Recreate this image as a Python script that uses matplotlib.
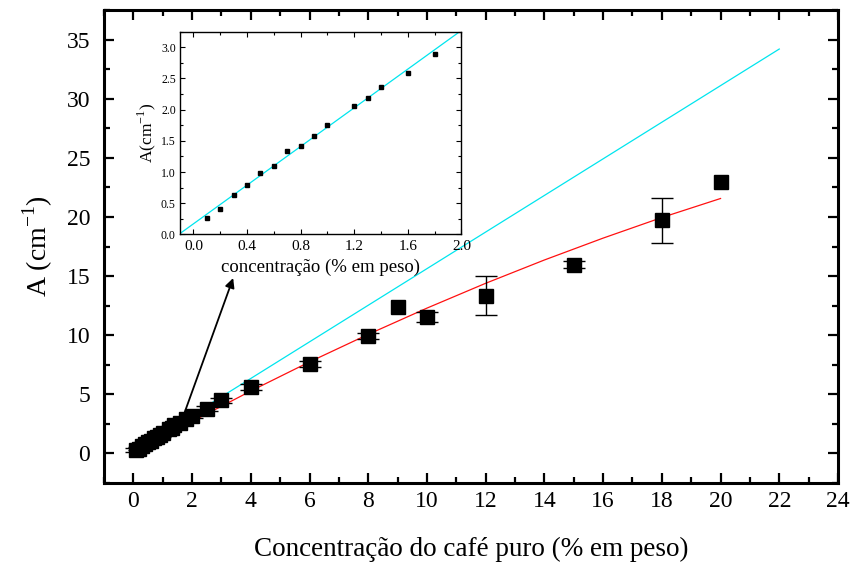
import matplotlib
matplotlib.use("Agg")
import matplotlib.pyplot as plt
from matplotlib.ticker import MultipleLocator

plt.rcParams['font.family'] = ['Liberation Serif', 'DejaVu Serif']
plt.rcParams['mathtext.fontset'] = 'custom'
plt.rcParams['mathtext.rm'] = 'Liberation Serif'

# ---- data (main plot) ----
conc = [0.1, 0.2, 0.3, 0.4, 0.5, 0.6, 0.7, 0.8, 0.9, 1.0, 1.2, 1.3, 1.4, 1.6, 1.8,
        2.0, 2.5, 3.0, 4, 6, 8, 9, 10, 12, 15, 18, 20]
absorb = [0.27, 0.41, 0.63, 0.80, 0.98, 1.09, 1.34, 1.42, 1.58, 1.76, 2.06, 2.19, 2.37, 2.59, 2.89,
          3.15, 3.80, 4.50, 5.60, 7.55, 9.93, 12.37, 11.52, 13.35, 15.96, 19.72, 22.98]
err = [0.15, 0.15, 0.15, 0.15, 0.15, 0.15, 0.15, 0.15, 0.15, 0.15, 0.15, 0.15, 0.15, 0.15, 0.15,
       0.15, 0.2, 0.2, 0.25, 0.25, 0.25, 0.0, 0.4, 1.65, 0.28, 1.9, 0.0]

# red fit curve
red_x = [0.1, 1, 2, 4, 6, 8, 10, 12, 14, 16, 18, 20]
red_y = [0.14, 1.36, 2.70, 5.28, 7.74, 10.07, 12.29, 14.39, 16.36, 18.21, 19.95, 21.56]

# cyan linear fit
cyan_x = [0.0, 22.0]
cyan_y = [0.15, 34.2]

# ---- data (inset) ----
in_x = [0.1, 0.2, 0.3, 0.4, 0.5, 0.6, 0.7, 0.8, 0.9, 1.0, 1.2, 1.3, 1.4, 1.6, 1.8]
in_y = [0.27, 0.41, 0.63, 0.80, 0.98, 1.09, 1.34, 1.42, 1.58, 1.76, 2.06, 2.19, 2.37, 2.59, 2.89]
in_fit_x = [-0.1, 2.0]
in_fit_y = [0.015, 3.27]

fig = plt.figure(figsize=(8.53, 5.65), dpi=100)
ax = fig.add_axes([0.1219, 0.1451, 0.8605, 0.8372])

ax.plot(cyan_x, cyan_y, color='#00e5ee', lw=0.9, zorder=2)
ax.plot(red_x, red_y, color='#ff1010', lw=0.9, zorder=2)

ex = [x for x, e in zip(conc, err) if e > 0]
ey = [y for y, e in zip(absorb, err) if e > 0]
ee = [e for e in err if e > 0]
ax.errorbar(ex, ey, yerr=ee, fmt='none', ecolor='black', elinewidth=1.0,
            capsize=8, capthick=1.0, zorder=3)
ax.plot(conc, absorb, 's', color='black', ms=9.5, zorder=4)

ax.set_xlim(-1, 24)
ax.set_ylim(-2.5, 37.5)
ax.xaxis.set_major_locator(MultipleLocator(2))
ax.xaxis.set_minor_locator(MultipleLocator(1))
ax.yaxis.set_major_locator(MultipleLocator(5))
ax.yaxis.set_minor_locator(MultipleLocator(2.5))
ax.tick_params(which='both', direction='in', top=True, right=True, width=1.6)
ax.tick_params(which='major', length=7)
ax.tick_params(which='minor', length=4)
ax.tick_params(axis='y', labelsize=17, pad=10)
ax.tick_params(axis='x', labelsize=17, pad=6)
for s in ax.spines.values():
    s.set_linewidth(2.2)

ax.set_xlabel('Concentração do café puro (% em peso)', fontsize=19.5, labelpad=18)
ax.set_ylabel('A (cm$^{-1}$)', fontsize=20, labelpad=8)

ax.annotate('', xy=(3.4, 14.83), xytext=(1.69, 3.08),
            arrowprops=dict(arrowstyle='-|>', color='black', lw=1.3,
                            mutation_scale=14, shrinkA=0, shrinkB=0), zorder=5)

# ---- inset ----
ins = fig.add_axes([0.211, 0.585, 0.330, 0.359])
ins.plot(in_fit_x, in_fit_y, color='#00e5ee', lw=0.9)
ins.plot(in_x, in_y, 's', color='black', ms=3.2)
ins.set_xlim(-0.1, 2.0)
ins.set_ylim(0, 3.25)
ins.xaxis.set_major_locator(MultipleLocator(0.4))
ins.xaxis.set_minor_locator(MultipleLocator(0.2))
ins.yaxis.set_major_locator(MultipleLocator(0.5))
ins.yaxis.set_minor_locator(MultipleLocator(0.25))
ins.xaxis.set_major_formatter(plt.FormatStrFormatter('%.1f'))
ins.yaxis.set_major_formatter(plt.FormatStrFormatter('%.1f'))
ins.tick_params(which='both', direction='in', top=True, right=True, width=0.8)
ins.tick_params(which='major', length=3.5)
ins.tick_params(which='minor', length=2)
ins.tick_params(axis='x', labelsize=11, pad=4)
ins.tick_params(axis='y', labelsize=8.5, pad=3)
for s in ins.spines.values():
    s.set_linewidth(1.0)
ins.set_xlabel('concentração (% em peso)', fontsize=13.5, labelpad=4)
ins.set_ylabel('A(cm$^{-1}$)', fontsize=12.5, labelpad=2)

fig.savefig('out.png', dpi=100)
